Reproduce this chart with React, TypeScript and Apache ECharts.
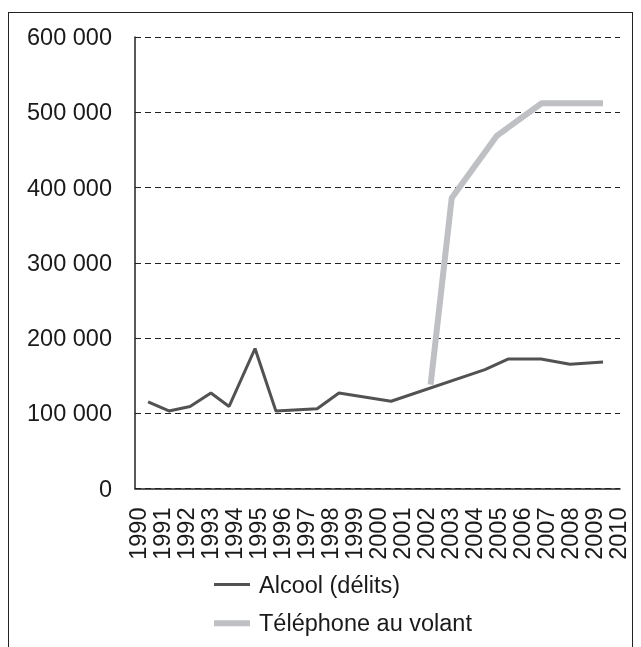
import React, { useEffect, useRef } from "react";
import * as echarts from "echarts";

const years = [
  "1990", "1991", "1992", "1993", "1994", "1995", "1996", "1997", "1998", "1999", "2000",
  "2001", "2002", "2003", "2004", "2005", "2006", "2007", "2008", "2009", "2010",
];

// positions along the year scale
const alcoolPos = [1990.54, 1991.4, 1992.27, 1993.13, 1993.88, 1994.95, 1995.81, 1997.51, 1998.41, 2000.56, 2004.43, 2005.38, 2006.74, 2007.94, 2009.3];
const alcoolValues = [115000, 103000, 109000, 127000, 109000, 186000, 103000, 106000, 127000, 116000, 158000, 172000, 172000, 165000, 168000];

const phonePos = [2002.19, 2003.06, 2004.93, 2006.77, 2009.3];
const phoneValues = [138000, 386000, 469000, 512000, 512000];

const yTicks = { min: 0, max: 600000, interval: 100000 };

const FONT = '"Liberation Sans", Arial, sans-serif';
const TEXT = "#1a1a1a";
const FS = 23.5;

function fmt(v: number): string {
  return String(v).replace(/\B(?=(\d{3})+(?!\d))/g, " ");
}

export default function App() {
  const ref = useRef<HTMLDivElement>(null);
  useEffect(() => {
    if (!ref.current) return;
    const chart = echarts.init(ref.current, null, { renderer: "svg" });
    chart.setOption({
      animation: false,
      textStyle: { fontFamily: FONT },
      grid: [
        { left: 135, right: 21, top: 37, bottom: 158.5, containLabel: false },
        { left: 138, right: 23, top: 37, bottom: 158.5, containLabel: false },
      ],
      legend: {
        orient: "vertical",
        left: 211,
        top: 572.5,
        padding: 0,
        itemWidth: 36,
        itemHeight: 2,
        itemGap: 14.7,
        lineStyle: { width: "inherit" },
        textStyle: { fontFamily: FONT, fontSize: FS, color: TEXT, lineHeight: 23, padding: [0, 0, 0, 4] },
        data: [
          { name: "Alcool (délits)", lineStyle: { width: 3 } },
          { name: "Téléphone au volant", lineStyle: { width: 6 } },
        ],
      },
      xAxis: [
        {
          type: "category",
          gridIndex: 1,
          data: years,
          boundaryGap: false,
          axisLine: { show: false },
          axisTick: { show: false },
          splitLine: { show: false },
          axisLabel: {
            rotate: 90,
            interval: 0,
            margin: 19,
            fontSize: FS,
            fontFamily: FONT,
            color: TEXT,
          },
        },
        {
          type: "value",
          gridIndex: 0,
          min: 1990,
          max: 2010,
          axisLine: { show: true, lineStyle: { color: "#222", width: 1.5 } },
          axisTick: { show: false },
          axisLabel: { show: false },
          splitLine: { show: false },
        },
      ],
      yAxis: [
        {
          type: "value",
          gridIndex: 0,
          min: yTicks.min,
          max: yTicks.max,
          interval: yTicks.interval,
          axisLine: { show: true, lineStyle: { color: "#222", width: 1.5 } },
          axisTick: { show: false },
          axisLabel: {
            margin: 23,
            fontSize: FS,
            fontFamily: FONT,
            color: TEXT,
            formatter: (v: number) => fmt(v),
          },
          splitLine: { show: true, lineStyle: { color: "#222", width: 1, type: [6, 4] } },
        },
        {
          type: "value",
          gridIndex: 1,
          min: yTicks.min,
          max: yTicks.max,
          show: false,
          splitLine: { show: false },
        },
      ],
      series: [
        {
          name: "Alcool (délits)",
          type: "line",
          xAxisIndex: 1,
          yAxisIndex: 0,
          data: alcoolPos.map((x, i) => [x, alcoolValues[i]]),
          symbol: "none",
          showSymbol: false,
          lineStyle: { color: "#525252", width: 3 },
          itemStyle: { color: "#525252" },
          z: 3,
        },
        {
          name: "Téléphone au volant",
          type: "line",
          xAxisIndex: 1,
          yAxisIndex: 0,
          data: phonePos.map((x, i) => [x, phoneValues[i]]),
          symbol: "none",
          showSymbol: false,
          lineStyle: { color: "#bfc0c4", width: 6, cap: "butt" },
          itemStyle: { color: "#bfc0c4" },
          z: 2,
        },
      ],
    });
    return () => chart.dispose();
  }, []);
  return (
    <>
      <div
        style={{
          position: "fixed",
          left: 8,
          top: 12,
          width: 625,
          height: 700,
          border: "1.5px solid #222",
          boxSizing: "border-box",
        }}
      />
      <div ref={ref} style={{ position: "fixed", left: 0, top: 0, width: 641, height: 647 }} />
    </>
  );
}
